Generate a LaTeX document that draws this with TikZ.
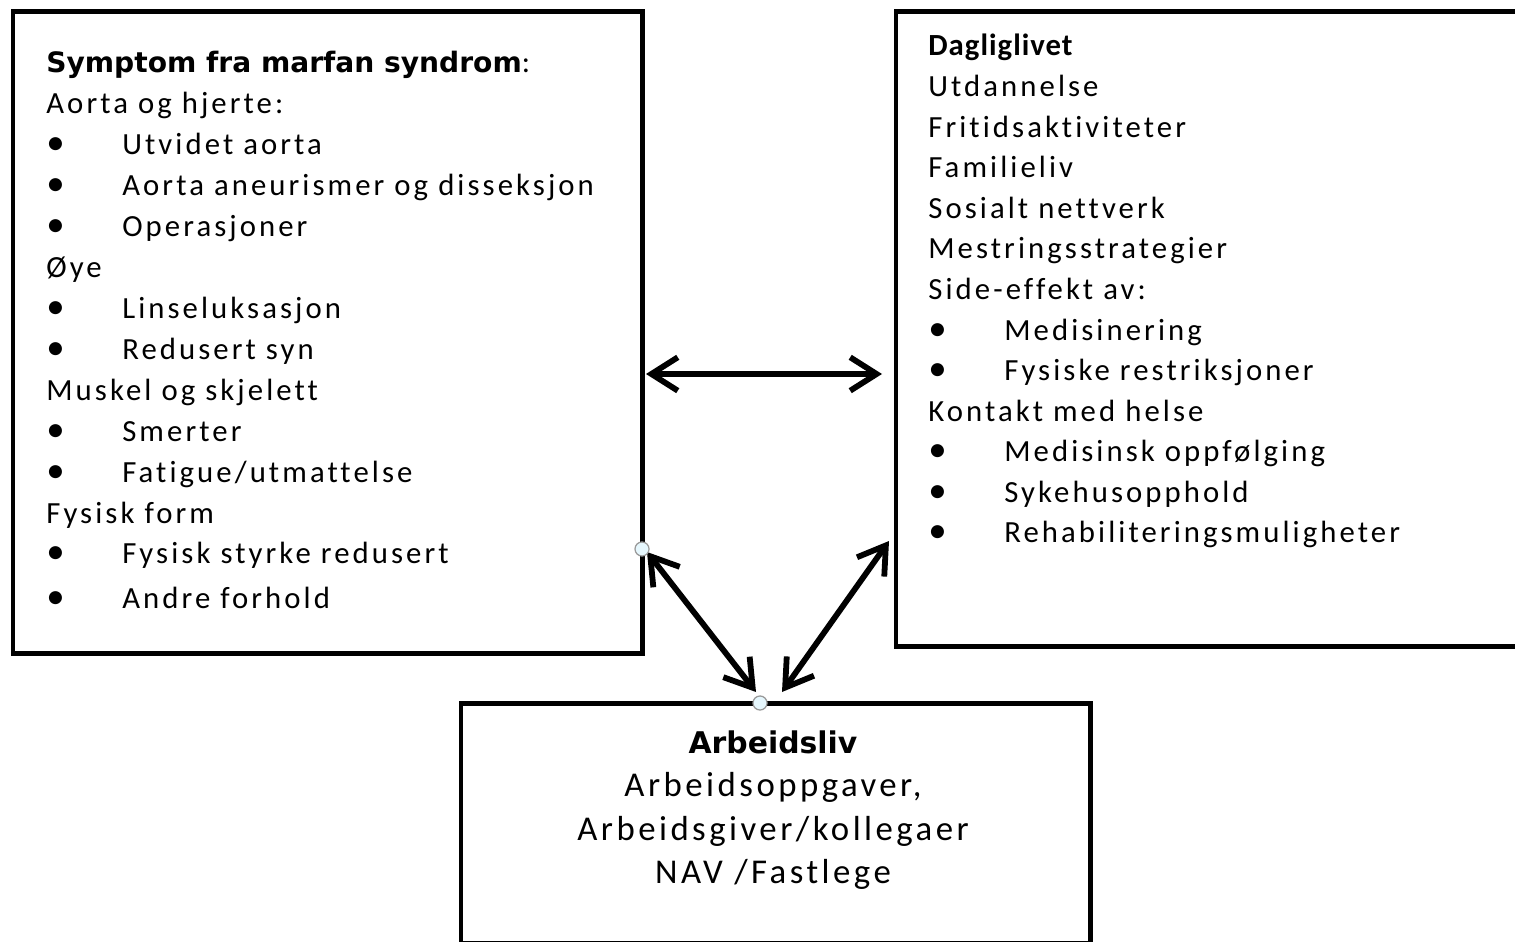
\documentclass[tikz,border=0pt]{standalone}
\usepackage{fontspec}
\setmainfont{Carlito}[LetterSpace=10,Ligatures=NoCommon,BoldFeatures={LetterSpace=3.3}]
\newfontfamily\widebold{DejaVu Sans}
\usepackage{tikz}
\usepackage{tkz-euclide}
\usetikzlibrary{arrows.meta,positioning}

\tikzset{
  boxfrm/.style={draw,line width=2.8pt,anchor=north west,inner sep=0pt},
  txtblock/.style={anchor=north west,inner sep=0pt,align=left,
    font=\fontsize{17.5}{23.3}\selectfont},
  dblarrow/.style={line width=3.3pt,
    {Straight Barb[length=15pt,width=19pt]}-{Straight Barb[length=15pt,width=19pt]}},
  handle/.style={draw=gray!80,fill=cyan!10,line width=0.7pt}
}
\newcommand\bul[1]{\makebox[1.52cm][l]{\scalebox{1.2}{\textbullet}}#1}
\newcommand\wtitle[2][17]{{\widebold\bfseries\fontsize{#1}{23}\selectfont #2}}

\begin{document}
\begin{tikzpicture}[x=0.02cm,y=-0.02cm]
    \clip (0,0) rectangle (1515,942);
    % boxes
    \node[boxfrm,minimum width=12.6cm,minimum height=12.84cm] (symptom) at (10.5,9) {};
    \node[boxfrm,minimum width=14cm,minimum height=12.7cm] (daglig) at (893.5,9) {};
    \node[boxfrm,minimum width=12.6cm,minimum height=4.8cm] (arbeid) at (458.5,701) {};
    % texts
    \node[txtblock] (symtxt) at (46,51) {\wtitle[16]{Symptom fra marfan syndrom}:\\
      Aorta og hjerte:\\
      \bul{Utvidet aorta}\\
      \bul{Aorta aneurismer og disseksjon}\\
      \bul{Operasjoner}\\
      Øye\\
      \bul{Linseluksasjon}\\
      \bul{Redusert syn}\\
      Muskel og skjelett\\
      \bul{Smerter}\\
      \bul{Fatigue/utmattelse}\\
      Fysisk form\\
      \bul{Fysisk styrke redusert}\\[0.08cm]
      \bul{Andre forhold}};
    \node[txtblock,font=\fontsize{17.5}{23.1}\selectfont] (dagtxt) at (928,34) {\textbf{Dagliglivet}\\
      Utdannelse\\
      Fritidsaktiviteter\\
      Familieliv\\
      Sosialt nettverk\\
      Mestringsstrategier\\
      Side-effekt av:\\
      \bul{Medisinering}\\
      \bul{Fysiske restriksjoner}\\
      Kontakt med helse\\
      \bul{Medisinsk oppfølging}\\
      \bul{Sykehusopphold}\\
      \bul{Rehabiliteringsmuligheter}};
    \node[txtblock,anchor=north,align=center,font=\fontsize{19.8}{24.8}\selectfont] (arbtxt) at (773,730)
      {\wtitle{Arbeidsliv}\\
      Arbeidsoppgaver,\\
      Arbeidsgiver/kollegaer\\
      NAV /Fastlege};
    % arrows
    \tkzDefPoints{646/374/hL,882/374/hR,647/552/lT,756/692/lB,782/692/rB,889/541/rT}
    \tkzDrawSegments[dblarrow](hL,hR lT,lB rB,rT)
    % \tkzDrawPoints(hL,hR)
    \draw[handle] (642,549) circle[radius=4pt];
    \draw[handle] (760,703) circle[radius=4pt];
\end{tikzpicture}
\end{document}
